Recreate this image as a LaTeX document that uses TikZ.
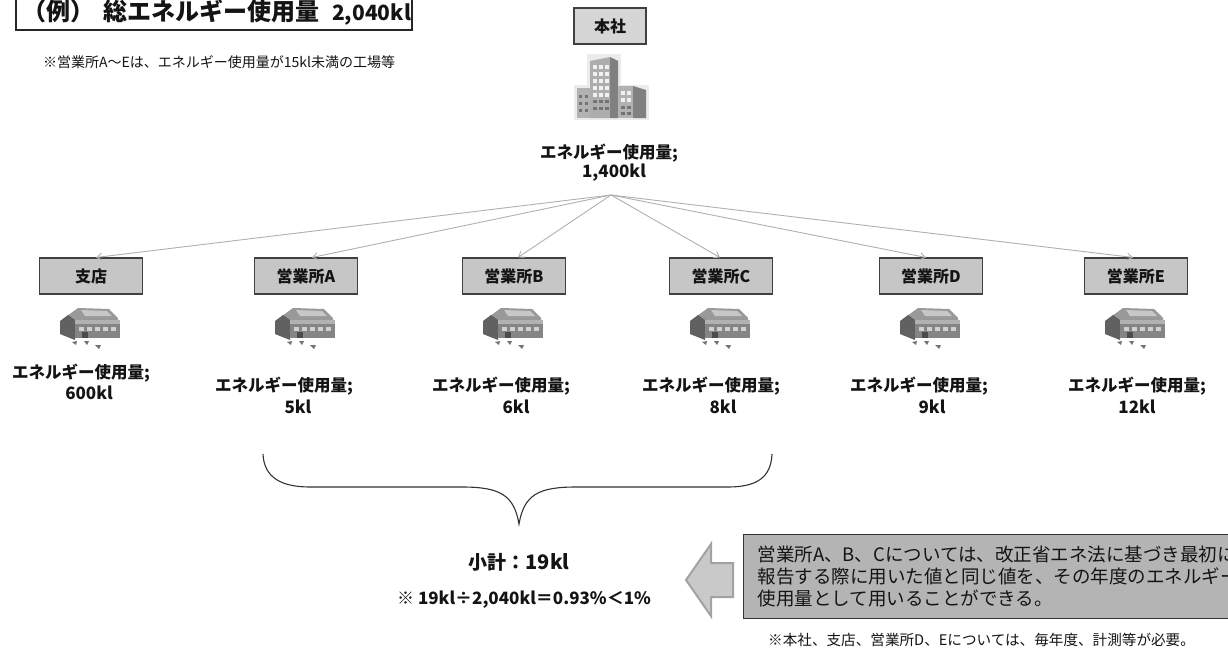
\documentclass[tikz,border=0pt]{standalone}
\usepackage{fontspec}
\setmainfont{Noto Sans CJK JP}
\usetikzlibrary{arrows.meta}
\definecolor{hqfill}{HTML}{D6D6D6}
\definecolor{brfill}{HTML}{C6C6C6}
\definecolor{linkgray}{HTML}{B0B0B0}
\definecolor{notefill}{HTML}{B4B4B4}
\definecolor{arrowfill}{HTML}{C9C9C9}
\definecolor{arrowline}{HTML}{A2A2A2}
\definecolor{ink}{HTML}{141414}
\newcommand{\fs}[1]{\fontsize{#1}{#1}\selectfont}
\begin{document}
\begin{tikzpicture}[x=1pt,y=-1pt,
  officebox/.style={draw=black!75,line width=1.1pt,fill=brfill,minimum width=103pt,minimum height=36pt,inner sep=0pt,font=\fs{16}\bfseries,text=ink},
  hqbox/.style={officebox,fill=hqfill,minimum width=72pt},
  usage/.style={font=\fs{16.5}\bfseries,text=ink,inner sep=0pt},
  amount/.style={font=\fs{17}\bfseries,text=ink,inner sep=0pt},
  link/.style={draw=linkgray,line width=0.9pt,-{Straight Barb[length=5pt,width=7pt]}},
  factory/.pic={
    \fill[black!40] (-24,-12) -- (-13,-20) -- (18,-19) -- (27,-10) -- (27,-6) -- (-24,-6) -- cycle;
    \fill[black!22] (-10,-18) -- (16,-17) -- (21,-12) -- (-6,-12) -- cycle;
    \fill[black!62] (-31,-7) -- (-23,-13) -- (-16,-8) -- (-16,12) -- (-31,6) -- cycle;
    \fill[black!48] (-16,-8) rectangle (29,10);
    \fill[black!30] (-16,-8) rectangle (29,-4);
    \foreach \wx in {-12,-4,4,12,20} {\fill[black!18] (\wx,-1) rectangle ++(5,4);}
    \fill[black!70] (-9,4) rectangle (-3,10);
    \fill[black!55] (-19,14) -- (-14,13) -- (-15,17) -- cycle;
    \fill[black!55] (-7,13) -- (-2,13) -- (-4,17) -- cycle;
    \fill[black!55] (4,17) -- (10,17) -- (8,21) -- cycle;
  },
  tower/.pic={
    \fill[black!8] (-38,-2) rectangle (37,33);
    \fill[black!8] (-25,-33) rectangle (9,0);
    \fill[black!30] (-35,1) rectangle (-19,31);
    \fill[black!32] (-22,-26) -- (-2,-30) -- (-2,31) -- (-22,31) -- cycle;
    \fill[black!50] (-2,-30) -- (6,-26) -- (6,31) -- (-2,31) -- cycle;
    \fill[black!30] (6,-1) rectangle (21,31);
    \fill[black!50] (21,-1) -- (34,3) -- (34,31) -- (21,31) -- cycle;
    \foreach \wy in {-22,-15,-8,-1,6} {\foreach \wx in {-19,-13,-7} {\fill[black!6] (\wx,\wy) rectangle ++(3.5,4);}}
    \foreach \wy in {13,20} {\foreach \wx in {-19,-13,-7} {\fill[black!55] (\wx,\wy) rectangle ++(3.5,3);}}
    \foreach \wy in {4,11} {\foreach \wx in {9,15} {\fill[black!6] (\wx,\wy) rectangle ++(3.5,4);}}
    \foreach \wy in {19,25} {\foreach \wx in {9,15} {\fill[black!55] (\wx,\wy) rectangle ++(3.5,3);}}
    \foreach \wy in {8,15,22} {\foreach \wx in {-33,-27} {\fill[black!55] (\wx,\wy) rectangle ++(3,3);}}
  }]
\clip (0,0) rectangle (1228,651);
\fill[white] (0,0) rectangle (1228,651);

% heading
\draw[black!85,line width=1.2pt] (16,-10) rectangle (412,30);
\node[anchor=west,font=\fs{24}\bfseries,text=ink,inner sep=0pt] (heading) at (22,12) {（例）\hspace{9pt}総エネルギー使用量\hspace{13pt}{\fontsize{21}{21}\selectfont 2,040kl}};
\node[anchor=west,font=\fs{14},text=ink,inner sep=0pt] (scope) at (43,62) {※営業所A～Eは、エネルギー使用量が15kl未満の工場等};

% head office
\node[hqbox] (hq) at (610,26) {本社};
\pic at (612,87) {tower};
\node[usage] (hqusage) at (609,153) {エネルギー使用量;};
\node[amount] (hqamount) at (614,173) {1,400kl};
\coordinate (hub) at (611,195);

% branches
\node[officebox] (shiten) at (91,276) {支店};
\node[officebox] (ea) at (306,276) {営業所A};
\node[officebox] (eb) at (514,276) {営業所B};
\node[officebox] (ec) at (721,276) {営業所C};
\node[officebox] (ed) at (931,276) {営業所D};
\node[officebox] (ee) at (1136,276) {営業所E};

\draw[link] (hub) -- ([xshift=5pt]shiten.north);
\draw[link] (hub) -- ([xshift=6pt]ea.north);
\draw[link] (hub) -- ([xshift=4pt]eb.north);
\draw[link] (hub) -- ([xshift=-1pt]ec.north);
\draw[link] (hub) -- ([xshift=-5pt]ed.north);
\draw[link] (hub) -- ([xshift=-3pt]ee.north);

\foreach \cx in {91,306,514,721,931,1136} {\pic at (\cx,328) {factory};}

\node[usage] (ushiten) at (81,373) {エネルギー使用量;};
\node[amount] (ashiten) at (89,393) {600kl};
\node[usage] (uea) at (284,386) {エネルギー使用量;};
\node[amount] (aea) at (298,407) {5kl};
\node[usage] (ueb) at (501,386) {エネルギー使用量;};
\node[amount] (aeb) at (516,407) {6kl};
\node[usage] (uec) at (711,386) {エネルギー使用量;};
\node[amount] (aec) at (723,407) {8kl};
\node[usage] (ued) at (919,386) {エネルギー使用量;};
\node[amount] (aed) at (932,407) {9kl};
\node[usage] (uee) at (1137,386) {エネルギー使用量;};
\node[amount] (aee) at (1137,407) {12kl};

% brace over offices A to C
\draw[black!80,line width=1.1pt] (263,454) .. controls (264,478) and (282,487) .. (310,487)
  -- (462,487) .. controls (500,487) and (514,495) .. (519,524)
  .. controls (524,495) and (538,487) .. (576,487)
  -- (728,487) .. controls (756,487) and (771,478) .. (772,454);
\coordinate (bracetip) at (519,524);

\node[font=\fs{19}\bfseries,text=ink,inner sep=0pt] (subtotal) at (519,562) {小計：{\fontsize{20}{20}\selectfont 19kl}};
\node[font=\fs{17}\bfseries,text=ink,inner sep=0pt] (ratio) at (524,600) {※ 19kl÷2,040kl＝0.93\%＜1\%};

% explanatory box with pointer
\node[draw=black!80,line width=1.1pt,fill=notefill,anchor=north west,minimum height=84pt,text width=560pt,align=left,inner xsep=14pt,inner ysep=0pt,font=\fontsize{18.5}{22}\selectfont,text=ink] (note) at (743,534)
  {営業所A、B、Cについては、改正省エネ法に基づき最初に\\報告する際に用いた値と同じ値を、その年度のエネルギー\\使用量として用いることができる。};
\filldraw[fill=arrowfill,draw=arrowline,line width=2pt,line join=miter]
  (686,580) -- (711,544) -- (711,563) -- (733,563) -- (733,597) -- (711,597) -- (711,616) -- cycle;

\node[anchor=west,font=\fs{14.6},text=ink,inner sep=0pt] (footnote) at (768,640) {※本社、支店、営業所D、Eについては、毎年度、計測等が必要。};
\end{tikzpicture}
\end{document}
